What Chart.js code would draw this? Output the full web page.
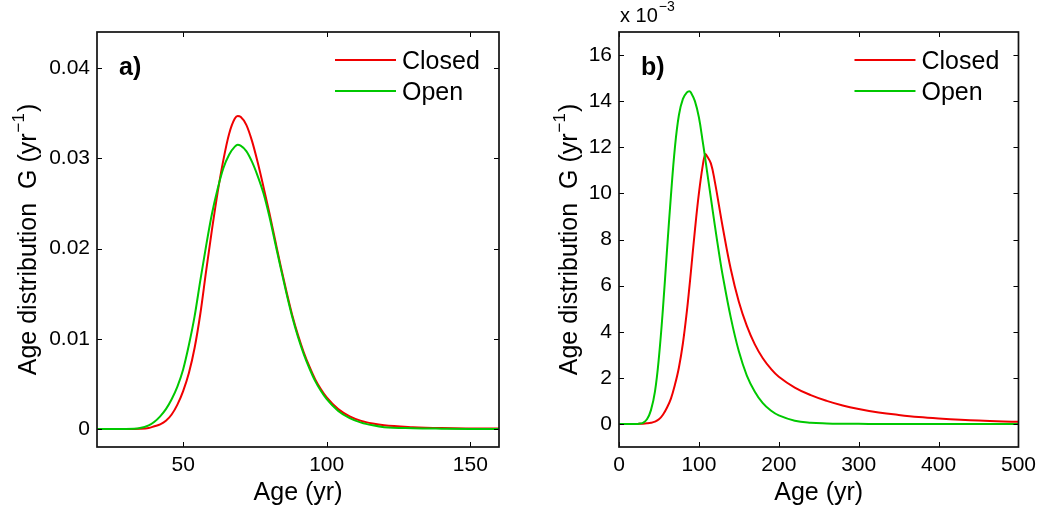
<!DOCTYPE html>
<html>
<head>
<meta charset="utf-8">
<script src="https://cdn.jsdelivr.net/npm/chart.js@4.4.1/dist/chart.umd.min.js"></script>
<style>
  html, body { margin: 0; padding: 0; background: #fff; }
  #wrap { position: relative; width: 1042px; height: 515px; overflow: hidden; }
  .panel { position: absolute; top: 0; width: 521px; height: 515px; }
</style>
</head>
<body>
<div id="wrap">
  <div class="panel" style="left:0"><canvas id="chartA" width="521" height="515"></canvas></div>
  <div class="panel" style="left:521px"><canvas id="chartB" width="521" height="515"></canvas></div>
</div>
<script>
// Panel a) : age distribution G (yr^-1) against age (yr)
const ageA = [20, 30, 35, 38, 40, 42, 44, 46, 48, 50, 52, 54, 56, 58, 60, 62, 64, 66, 68, 69, 70,
  72, 74, 76, 78, 80, 82, 84, 86, 88, 90, 92, 94, 96, 98, 100, 104, 108, 112, 116, 120, 130, 140, 150, 160];
const closedA = [0, 0, 0.00002, 0.0001, 0.0003, 0.0005, 0.0009, 0.0016, 0.0027, 0.0042, 0.0062, 0.0090,
  0.0128, 0.0175, 0.0220, 0.0262, 0.0298, 0.0327, 0.0344, 0.0347, 0.0346,
  0.0337, 0.0319, 0.0295, 0.0268, 0.0240, 0.0210, 0.0180, 0.0152, 0.0126, 0.0104, 0.0085, 0.0069,
  0.0055, 0.0044, 0.0035, 0.0022, 0.0014, 0.0009, 0.0006, 0.0004, 0.0002, 0.0001, 0.00006, 0.00004];
const openA = [0, 0, 0.0001, 0.0004, 0.0008, 0.0014, 0.0022, 0.0033, 0.0047, 0.0066, 0.0093, 0.0125,
  0.0165, 0.0203, 0.0238, 0.0266, 0.0289, 0.0304, 0.0313, 0.0315, 0.0314,
  0.0308, 0.0296, 0.0280, 0.0261, 0.0236, 0.0207, 0.0178, 0.0150, 0.0124, 0.0102, 0.0083, 0.0067,
  0.0053, 0.0042, 0.0033, 0.0020, 0.0012, 0.0007, 0.0004, 0.0002, 0.00008, 0.00003, 0, 0];
const xTicksA = [50, 100, 150];
const yTicksA = [0, 0.01, 0.02, 0.03, 0.04];

// Panel b) : same quantity, values given in units of 10^-3 yr^-1
const ageB = [0, 10, 20, 25, 30, 35, 40, 45, 50, 55, 60, 65, 70, 75, 80, 85, 88, 90, 95, 100, 105, 108, 110,
  115, 120, 125, 130, 140, 150, 160, 170, 180, 190, 200, 220, 240, 260, 280, 300, 325, 350, 375, 400, 450, 500];
const closedB = [0, 0, 0, 0.005, 0.01, 0.025, 0.05, 0.1, 0.2, 0.4, 0.7, 1.1, 1.7, 2.45, 3.5, 4.9, 5.9, 6.6,
  8.4, 10.0, 11.25, 11.7, 11.62, 11.3, 10.5, 9.5, 8.5, 6.7, 5.3, 4.25, 3.45, 2.85, 2.4, 2.05, 1.58, 1.25,
  1.0, 0.8, 0.65, 0.5, 0.39, 0.3, 0.24, 0.15, 0.09];
const openB = [0, 0, 0, 0.01, 0.05, 0.2, 0.6, 1.4, 2.9, 5.0, 7.5, 9.9, 12.0, 13.4, 14.1, 14.38, 14.43, 14.38,
  14.0, 13.3, 12.2, 11.5, 11.0, 9.8, 8.6, 7.45, 6.4, 4.6, 3.15, 2.1, 1.4, 0.9, 0.58, 0.37, 0.14, 0.05,
  0.02, 0.008, 0.004, 0, 0, 0, 0, 0, 0];
const xTicksB = [0, 100, 200, 300, 400, 500];
const yTicksB = [0, 2, 4, 6, 8, 10, 12, 14, 16];

const seriesNames = ['Closed', 'Open'];
const RED = '#f00000';
const GREEN = '#00c800';
const FONT = '"Liberation Sans", Arial, Helvetica, sans-serif';

function pts(xs, ys) { return xs.map((x, i) => ({ x: x, y: ys[i] })); }

// Box, inward ticks, legend, panel letter and axis titles
const frame = {
  id: 'frame',
  afterDraw(chart, args, o) {
    const ctx = chart.ctx, a = chart.chartArea;
    const xs = chart.scales.x, ys = chart.scales.y;
    ctx.save();
    ctx.strokeStyle = '#000';
    ctx.lineWidth = 1;
    ctx.beginPath();
    xs.ticks.forEach(t => {
      const p = Math.round(xs.getPixelForValue(t.value)) + 0.5;
      ctx.moveTo(p, a.bottom); ctx.lineTo(p, a.bottom - 5);
      ctx.moveTo(p, a.top); ctx.lineTo(p, a.top + 5);
    });
    ys.ticks.forEach(t => {
      const p = Math.round(ys.getPixelForValue(t.value)) + 0.5;
      ctx.moveTo(a.left, p); ctx.lineTo(a.left + 5, p);
      ctx.moveTo(a.right, p); ctx.lineTo(a.right - 5, p);
    });
    ctx.stroke();
    ctx.lineWidth = 1.7;
    ctx.strokeStyle = '#111';
    ctx.strokeRect(a.left, a.top, a.right - a.left, a.bottom - a.top);

    // legend
    const ds = chart.data.datasets;
    ctx.lineWidth = 2;
    ctx.font = '25px ' + FONT;
    ctx.textAlign = 'left';
    ctx.textBaseline = 'alphabetic';
    ds.forEach((d, i) => {
      const ly = a.top + 28 + i * 31;
      ctx.strokeStyle = d.borderColor;
      ctx.beginPath();
      ctx.moveTo(a.right - 164, ly); ctx.lineTo(a.right - 103, ly);
      ctx.stroke();
      ctx.fillStyle = '#000';
      ctx.fillText(d.label, a.right - 97, ly + 9);
    });

    // panel letter
    ctx.font = 'bold 25px ' + FONT;
    ctx.fillText(o.letter, a.left + 22, a.top + 43);

    // x-axis title
    ctx.font = '25px ' + FONT;
    ctx.textAlign = 'center';
    ctx.fillText('Age (yr)', (a.left + a.right) / 2, 500);

    // y-axis title with superscript
    ctx.save();
    ctx.translate(a.left - o.titleGap, (a.top + a.bottom) / 2);
    ctx.rotate(-Math.PI / 2);
    ctx.textAlign = 'left';
    const main = 'Age distribution  G (yr', sup = '\u22121', tail = ')';
    ctx.font = '25px ' + FONT;
    const w1 = ctx.measureText(main).width, w3 = ctx.measureText(tail).width;
    ctx.font = '17px ' + FONT;
    const w2 = ctx.measureText(sup).width;
    const x0 = -(w1 + w2 + w3 + 2) / 2;
    ctx.font = '25px ' + FONT;
    ctx.fillText(main, x0, 0);
    ctx.font = '17px ' + FONT;
    ctx.fillText(sup, x0 + w1 + 1, -12);
    ctx.font = '25px ' + FONT;
    ctx.fillText(tail, x0 + w1 + w2 + 2, 0);
    ctx.restore();

    // axis multiplier
    if (o.exponent) {
      ctx.textAlign = 'left';
      ctx.font = '20px ' + FONT;
      ctx.fillText('x 10', a.left + 1, 22);
      const w = ctx.measureText('x 10').width;
      ctx.font = '14px ' + FONT;
      ctx.fillText(o.exponent, a.left + 2 + w, 11);
    }
    ctx.restore();
  }
};

function makeChart(id, ages, closed, open, xr, yr, xt, yt, fmt, plug, padRight, yWidth, curve) {
  return new Chart(document.getElementById(id), {
    type: 'line',
    data: {
      datasets: [
        { label: seriesNames[0], data: pts(ages, closed), borderColor: RED, order: 1 },
        { label: seriesNames[1], data: pts(ages, open), borderColor: GREEN, order: 0 }
      ]
    },
    options: {
      responsive: false,
      animation: false,
      devicePixelRatio: 1,
      layout: { padding: { left: 0, top: 32, right: padRight, bottom: 0 } },
      elements: {
        point: { radius: 0 },
        line: Object.assign({ borderWidth: 2, fill: false }, curve)
      },
      plugins: { legend: { display: false }, tooltip: { enabled: false }, frame: plug },
      scales: {
        x: {
          type: 'linear', min: xr[0], max: xr[1],
          grid: { display: false, drawTicks: false }, border: { display: false },
          afterBuildTicks: s => { s.ticks = xt.map(v => ({ value: v })); },
          afterFit: s => { s.height = 68; },
          ticks: { color: '#000', padding: 6, maxRotation: 0, font: { family: FONT, size: 21 },
                   callback: v => String(v) }
        },
        y: {
          type: 'linear', min: yr[0], max: yr[1],
          grid: { display: false, drawTicks: false }, border: { display: false },
          afterBuildTicks: s => { s.ticks = yt.map(v => ({ value: v })); },
          afterFit: s => { s.width = yWidth; },
          ticks: { color: '#000', padding: 7, font: { family: FONT, size: 21 }, callback: fmt }
        }
      }
    },
    plugins: [frame]
  });
}

makeChart('chartA', ageA, closedA, openA, [20, 160], [-0.002, 0.044], xTicksA, yTicksA,
  v => (v === 0 ? '0' : v.toFixed(2)), { letter: 'a)', titleGap: 61 }, 22, 97,
  { cubicInterpolationMode: 'monotone' });
makeChart('chartB', ageB, closedB, openB, [0, 500], [-1, 17], xTicksB, yTicksB,
  v => String(v), { letter: 'b)', titleGap: 42, exponent: '\u22123' }, 20, 98,
  { cubicInterpolationMode: 'default', tension: 0.4 });
</script>
</body>
</html>
